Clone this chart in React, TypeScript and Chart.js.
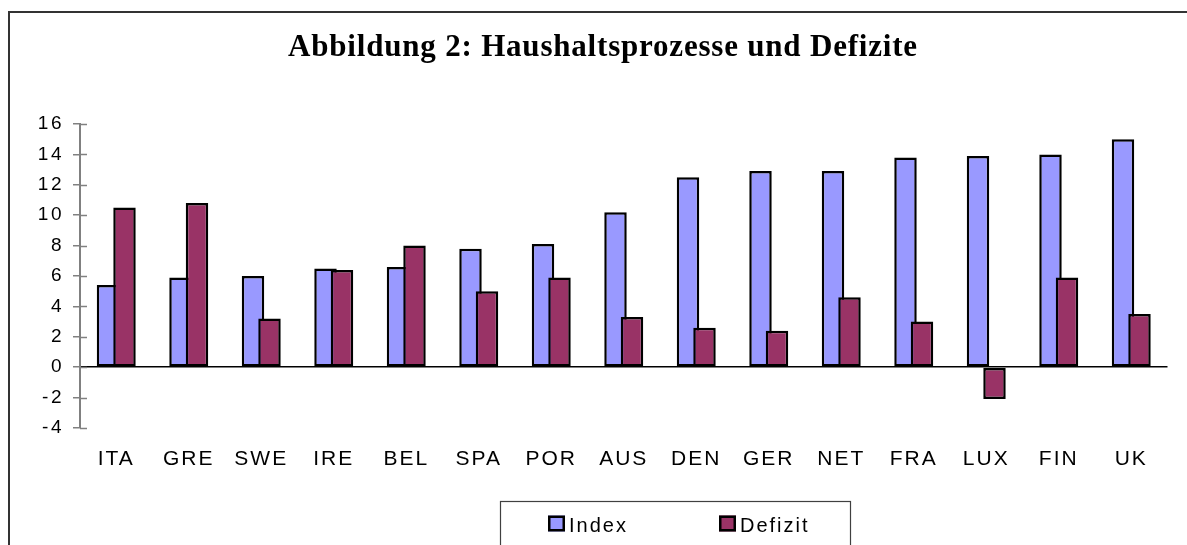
import React, { useEffect, useRef } from 'react';
import { Chart, registerables } from 'chart.js';

Chart.register(...registerables);

// ---------- data ----------
const categories = ['ITA', 'GRE', 'SWE', 'IRE', 'BEL', 'SPA', 'POR', 'AUS', 'DEN', 'GER', 'NET', 'FRA', 'LUX', 'FIN', 'UK'];
const indexValues = [5.4, 5.9, 6.0, 6.5, 6.6, 7.8, 8.1, 10.2, 12.5, 12.9, 12.9, 13.8, 13.9, 14.0, 15.0];
const defizitValues = [10.5, 10.8, 3.2, 6.4, 8.0, 5.0, 5.9, 3.3, 2.6, 2.4, 4.6, 3.0, -2.1, 5.9, 3.5];
const seriesNames = ['Index', 'Defizit'];
const yMin = -4;
const yMax = 16;
const yStep = 2;
const titleText = 'Abbildung 2: Haushaltsprozesse und Defizite';

// ---------- style ----------
const W = 1187;
const H = 545;
const SANS = "Arial, 'Liberation Sans', sans-serif";
const SERIF = "'Times New Roman', 'Liberation Serif', serif";
const INDEX_COLOR = '#9999FF';
const DEFIZIT_COLOR = '#993366';
const AXIS_GRAY = '#808080';
const SHIFT = 0.367; // fraction of bar width each bar is moved away from the category centre

function wrapSpacing(obj: any, method: string, spacing: string) {
  const orig = obj[method];
  obj[method] = function (...args: any[]) {
    const ctx = this.ctx;
    const prev = ctx.letterSpacing;
    ctx.letterSpacing = spacing;
    try {
      return orig.apply(this, args);
    } finally {
      ctx.letterSpacing = prev;
    }
  };
}

const spacingPlugin = {
  id: 'letterSpacingPlugin',
  afterLayout(chart: any) {
    chart.boxes.forEach((b: any) => {
      if (b.__spaced) return;
      if (b === chart.titleBlock) {
        wrapSpacing(b, 'draw', '0.8px');
        b.__spaced = true;
      } else if (b.id === 'y') {
        wrapSpacing(b, 'drawLabels', '2.5px');
        b.__spaced = true;
      } else if (b.id === 'x') {
        wrapSpacing(b, 'drawLabels', '2px');
        b.__spaced = true;
      }
    });
  },
};

const overlapPlugin = {
  id: 'overlapPlugin',
  afterDatasetsUpdate(chart: any) {
    chart.data.datasets.forEach((ds: any, i: number) => {
      const meta = chart.getDatasetMeta(i);
      const dir = ds.label === seriesNames[0] ? -1 : 1;
      meta.data.forEach((el: any) => {
        el.x += dir * el.width * SHIFT;
      });
    });
  },
};

const decorPlugin = {
  id: 'decorPlugin',
  afterDraw(chart: any) {
    const { ctx, chartArea } = chart;
    const y = chart.scales.y;
    ctx.save();
    // inner half of the crossing y ticks
    ctx.strokeStyle = AXIS_GRAY;
    ctx.lineWidth = 1.5;
    y.ticks.forEach((_t: any, i: number) => {
      const py = Math.round(y.getPixelForTick(i)) + 0.5;
      ctx.beginPath();
      ctx.moveTo(chartArea.left, py);
      ctx.lineTo(chartArea.left + 7, py);
      ctx.stroke();
    });
    // outer frame (top and left edge)
    ctx.fillStyle = '#333333';
    ctx.fillRect(8, 11, W - 8, 2);
    ctx.fillRect(8, 11, 2, H - 11);
    // legend frame
    ctx.strokeStyle = '#404040';
    ctx.lineWidth = 1.2;
    ctx.strokeRect(500.5, 501.5, 350, 80);
    // legend items
    const items = [
      { label: seriesNames[0], color: INDEX_COLOR, x: 548 },
      { label: seriesNames[1], color: DEFIZIT_COLOR, x: 719 },
    ];
    items.forEach((it) => {
      ctx.fillStyle = it.color;
      ctx.fillRect(it.x, 515.5, 17, 16);
      ctx.strokeStyle = '#000';
      ctx.lineWidth = 2.5;
      ctx.strokeRect(it.x + 1.25, 516.75, 14.5, 13.5);
      ctx.fillStyle = '#000';
      ctx.font = `20px ${SANS}`;
      ctx.letterSpacing = '2px';
      ctx.textBaseline = 'alphabetic';
      ctx.textAlign = 'left';
      ctx.fillText(it.label, it.x + 21, 531.5);
    });
    ctx.restore();
  },
};

export default function App() {
  const ref = useRef<HTMLCanvasElement>(null);

  useEffect(() => {
    if (!ref.current) return;
    const chart = new Chart(ref.current, {
      type: 'bar',
      data: {
        labels: categories,
        datasets: [
          {
            label: seriesNames[0],
            data: indexValues,
            backgroundColor: INDEX_COLOR,
            borderColor: '#000',
            borderWidth: 2.5,
            borderSkipped: false,
            grouped: false,
            barPercentage: 1,
            categoryPercentage: 0.31,
            order: 1,
          },
          {
            label: seriesNames[1],
            data: defizitValues,
            backgroundColor: DEFIZIT_COLOR,
            borderColor: '#000',
            borderWidth: 2.5,
            borderSkipped: false,
            grouped: false,
            barPercentage: 1,
            categoryPercentage: 0.31,
            order: 0,
          },
        ],
      } as any,
      options: {
        responsive: false,
        animation: false,
        events: [],
        layout: { padding: { left: 38.5, right: 19.5, top: 0, bottom: 0 } },
        plugins: {
          legend: { display: false },
          tooltip: { enabled: false },
          title: {
            display: true,
            text: titleText,
            color: '#000',
            font: { family: SERIF, size: 31, weight: 'bold', lineHeight: 1.2 },
            padding: { top: 29, bottom: 57.8 },
          },
        },
        scales: {
          x: {
            grid: { display: false, drawTicks: false, tickLength: 0 },
            border: { display: false },
            ticks: {
              color: '#000',
              font: { family: SANS, size: 21 },
              padding: 19,
              maxRotation: 0,
              autoSkip: false,
            },
            afterFit: (s: any) => {
              s.height = 117;
            },
          },
          y: {
            min: yMin,
            max: yMax,
            ticks: {
              stepSize: yStep,
              color: '#000',
              font: { family: SANS, size: 19 },
              padding: 9,
            },
            grid: {
              color: (c: any) => (c.tick && c.tick.value === 0 ? '#000' : 'rgba(0,0,0,0)'),
              lineWidth: 1.5,
              tickColor: AXIS_GRAY,
              tickWidth: 1.5,
              tickLength: 7,
              drawTicks: true,
            },
            border: { display: true, color: AXIS_GRAY, width: 2 },
            afterFit: (s: any) => {
              s.width = 41.5;
            },
          },
        },
      } as any,
      plugins: [spacingPlugin, overlapPlugin, decorPlugin],
    });
    return () => chart.destroy();
  }, []);

  return (
    <div style={{ position: 'absolute', left: 0, top: 0, width: W, height: H, background: '#fff' }}>
      <canvas ref={ref} width={W} height={H} style={{ display: 'block', width: W, height: H }} />
    </div>
  );
}
